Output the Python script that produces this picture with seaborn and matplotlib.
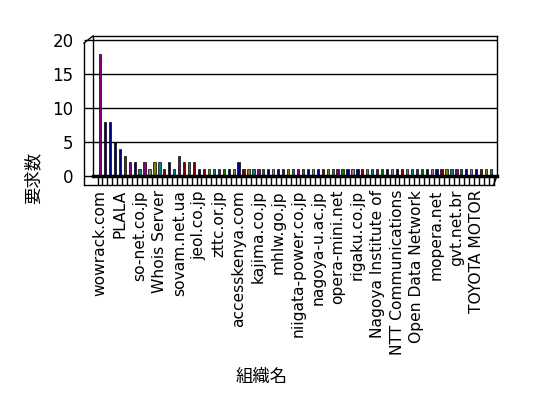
import matplotlib
matplotlib.use("Agg")
import matplotlib.pyplot as plt
import seaborn as sns
import pandas as pd
import numpy as np

# ---- data ----
label_names = ["wowrack.com", "PLALA", "so-net.co.jp", "Whois Server", "sovam.net.ua",
               "jeol.co.jp", "zttc.or.jp", "accesskenya.com", "kajima.co.jp", "mhlw.go.jp",
               "niigata-power.co.jp", "nagoya-u.ac.jp", "opera-mini.net", "rigaku.co.jp",
               "Nagoya Institute of", "NTT Communications", "Open Data Network",
               "mopera.net", "gvt.net.br", "TOYOTA MOTOR"]
label_every = 4
counts = [18, 8, 8, 5, 4, 3, 2, 2, 1, 2,
          1, 2, 2, 1, 2, 1, 3, 2, 2, 2,
          1, 1, 1, 1, 1, 1, 1, 1, 2, 1,
          1, 1, 1, 1, 1, 1, 1, 1, 1, 1,
          1, 1, 1, 1, 1, 1, 1, 1, 1, 1,
          1, 1, 1, 1, 1, 1, 1, 1, 1, 1,
          1, 1, 1, 1, 1, 1, 1, 1, 1, 1,
          1, 1, 1, 1, 1, 1, 1, 1, 1, 1]
keys = [str(i) for i in range(len(counts))]

# ---- style ----
head_colors = ['#800080', '#000080', '#000080', '#000080', '#000080', '#404000', '#800080',
               '#000080', '#008080', '#800080', '#808080', '#808000', '#008080', '#800000',
               '#000080', '#008080', '#800080', '#800000', '#008080', '#800000']
cycle = ['#000080', '#800000', '#808000', '#008080', '#800080', '#008000', '#000080', '#808080']
colors = head_colors + [cycle[i % len(cycle)] for i in range(len(counts) - len(head_colors))]

W, H = 548, 398
fig = plt.figure(figsize=(W / 100, H / 100), dpi=100)
fig.patch.set_facecolor('white')

ax = fig.add_axes([93 / W, 1 - 176 / H, (497 - 93) / W, 140 / H])
df = pd.DataFrame({"key": keys, "count": counts})
sns.barplot(data=df, x="key", y="count", hue="key", palette=dict(zip(keys, colors)),
            width=0.45, legend=False, ax=ax, edgecolor='black', linewidth=0.5,
            saturation=1)

# pixel helpers (decoration only)
sx = lambda px: (px - 100) / 4.95
sy = lambda py: (176 - py) / 6.8

ax.set_xlim(sx(93), sx(497))
ax.set_ylim(0, sy(36))
ax.set_facecolor('white')
ax.set_yticks([0, 5, 10, 15, 20])
ax.yaxis.grid(True, color='black', linewidth=1)
ax.set_axisbelow(True)
for s in ['left', 'top', 'right']:
    ax.spines[s].set_color('black')
    ax.spines[s].set_linewidth(1)
ax.spines['bottom'].set_linewidth(2.5)

ax.set_xticks(range(0, len(counts), label_every))
ax.set_xticklabels(label_names, rotation=90, fontsize=11.2, family='DejaVu Sans')
ax.tick_params(axis='x', length=0, pad=10)
ax.tick_params(axis='y', length=0, pad=14, labelsize=12)
ax.set_xlabel("")
ax.set_ylabel("")

# 3D-like frame decoration
kw = dict(color='black', linewidth=1, clip_on=False)
ax.plot([sx(84), sx(84)], [sy(43), sy(185)], **kw)
ax.plot([sx(84), sx(93)], [sy(43), sy(36)], **kw)
ax.hlines([0, 5, 10, 15, 20], sx(84), sx(93), **kw)
ax.vlines(np.arange(len(counts) + 1) - 0.5, sy(185), 0, **kw)
ax.plot([sx(84), len(counts) - 0.5], [sy(185), sy(185)], **kw)
ax.plot([sx(497), len(counts) - 0.5], [0, sy(185)], **kw)

jp = ['Noto Sans CJK JP', 'DejaVu Sans']
fig.text(33 / W, 1 - 178 / H, "要求数", rotation=90, ha='center', va='center',
         fontsize=12.5, family=jp)
fig.text(262 / W, 1 - 377 / H, "組織名", ha='center', va='center', fontsize=12.5, family=jp)

fig.savefig("out.png", dpi=100, facecolor='white')
